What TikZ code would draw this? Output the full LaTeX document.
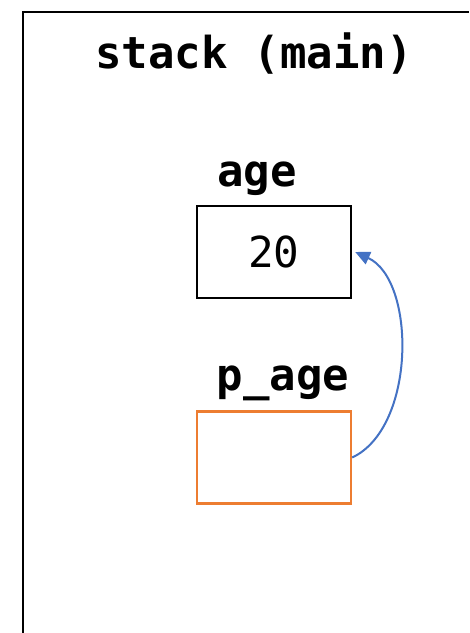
\documentclass[tikz,border=0pt]{standalone}
\usepackage{fontspec}
\newfontfamily\codefont{DejaVu Sans Mono}
\usetikzlibrary{arrows.meta,calc}
\definecolor{ptrorange}{HTML}{ED7D31}
\definecolor{ptrblue}{HTML}{4472C4}
\begin{document}
\begin{tikzpicture}[x=0.75pt,y=-0.75pt,
  lbl/.style={inner sep=0pt, anchor=base, font=\codefont\bfseries\fontsize{33pt}{38pt}\selectfont},
  valbox/.style={draw=black, line width=1.8pt, minimum width=115.5pt, minimum height=69pt, inner sep=0pt, font=\codefont\fontsize{32pt}{38pt}\selectfont},
  ptrbox/.style={draw=ptrorange, line width=1.8pt, minimum width=115.5pt, minimum height=69pt, inner sep=0pt},
  ptrarrow/.style={draw=ptrblue, line width=1.5pt, -{Triangle[length=11pt,width=10pt]}}]
\useasboundingbox (0,0) rectangle (469,633);
\fill[white] (0,0) rectangle (469,633);
% stack frame (open to the right and bottom)
\coordinate (fbl) at (23,633);
\coordinate (ftl) at (23,12);
\coordinate (ftr) at (469,12);
\draw[line width=2pt] (fbl) -- (ftl) -- (ftr);
\node[lbl] (title) at (254,68) {stack (main)};
\node[lbl] (agelbl) at (257,186) {age};
\node[valbox] (age) at (274,252) {20};
\node[lbl] (plbl) at (283,390) {p\_age};
\node[ptrbox] (page) at (274,457.5) {};
\draw[ptrarrow] (page.east) .. controls ($(page.east)+(64,-30)$) and ($(age.east)+(64,28)$) .. ($(age.east)+(3,0)$);
\end{tikzpicture}
\end{document}
